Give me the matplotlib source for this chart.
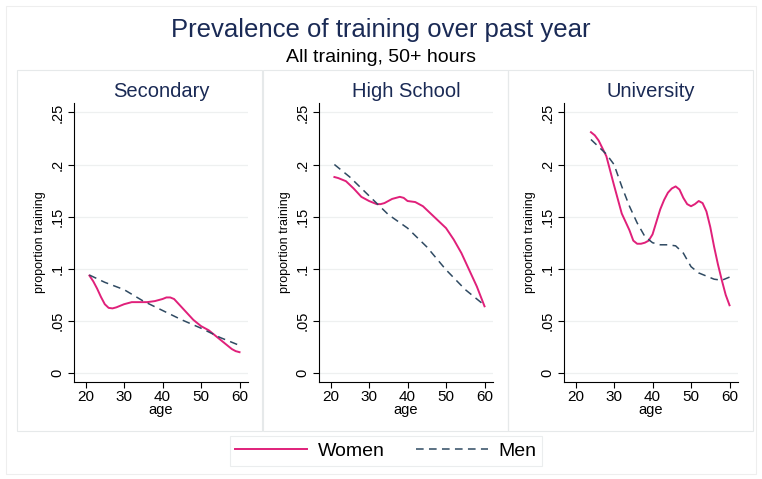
import matplotlib
matplotlib.use("Agg")
import matplotlib.pyplot as plt
from matplotlib.patches import Rectangle
from matplotlib.lines import Line2D

plt.rcParams['font.family'] = ['Liberation Sans', 'DejaVu Sans']

# data
panels = ["Secondary", "High School", "University"]

sec_w_age = [21, 22, 23, 24, 25, 26, 27, 28, 30, 32, 34, 36, 38, 40, 41, 42, 43, 44, 45, 46, 47, 48, 50, 52, 54, 56, 58, 59, 60]
sec_w = [.0935, .088, .081, .073, .066, .0625, .062, .063, .066, .068, .068, .068, .069, .071, .0725, .0725, .071, .067,
         .063, .059, .055, .051, .045, .041, .035, .029, .023, .021, .020]
sec_m_age = [21, 25, 30, 35, 40, 45, 50, 55, 60]
sec_m = [.094, .087, .080, .069, .060, .051, .043, .034, .0265]

hs_w_age = [21, 22, 24, 26, 28, 30, 32, 33, 34, 36, 38, 39, 40, 42, 44, 46, 48, 50, 52, 54, 56, 58, 60]
hs_w = [.188, .187, .184, .177, .169, .165, .162, .162, .163, .167, .169, .168, .165, .164, .160, .153, .146, .139,
        .128, .115, .099, .083, .064]
hs_m_age = [21, 25, 30, 35, 40, 45, 50, 55, 60]
hs_m = [.200, .188, .170, .152, .139, .121, .099, .080, .065]

uni_w_age = [24, 25, 26, 28, 30, 32, 34, 35, 36, 37, 38, 39, 40, 41, 42, 43, 44, 45, 46, 47, 48, 49, 50, 51, 52, 53,
             54, 55, 56, 57, 58, 59, 60]
uni_w = [.231, .228, .223, .208, .180, .153, .137, .127, .124, .124, .125, .127, .133, .145, .157, .166, .173, .177,
         .179, .176, .168, .162, .160, .162, .165, .163, .155, .140, .121, .104, .089, .075, .065]
uni_m_age = [24, 26, 28, 30, 32, 34, 36, 38, 40, 42, 44, 46, 48, 50, 52, 54, 56, 58, 60]
uni_m = [.224, .217, .210, .200, .179, .160, .144, .131, .125, .123, .123, .122, .115, .102, .096, .093, .090, .089, .092]

women = [(sec_w_age, sec_w), (hs_w_age, hs_w), (uni_w_age, uni_w)]
men = [(sec_m_age, sec_m), (hs_m_age, hs_m), (uni_m_age, uni_m)]

yticks = [0, .05, .1, .15, .2, .25]
ytick_labels = ["0", ".05", ".1", ".15", ".2", ".25"]
xticks = [20, 30, 40, 50, 60]

W, H = 762, 479
women_color = "#e0207a"
men_color = "#2f4a62"
navy = "#1a2a55"
border = "#e6e9ea"

fig = plt.figure(figsize=(W / 100, H / 100), dpi=100)
fig.patch.set_facecolor("white")


def fx(px):
    return px / W


def fy(py):
    return 1 - py / H


# outer frame and panel boxes
fig.patches.append(Rectangle((fx(6), fy(474)), fx(750), 468 / H, transform=fig.transFigure,
                             fill=False, edgecolor="#eeeeee", lw=0.8))
panel_left = [17, 263, 508]
for pl in panel_left:
    fig.patches.append(Rectangle((fx(pl), fy(431)), fx(245), 361 / H, transform=fig.transFigure,
                                 fill=False, edgecolor=border, lw=0.8))

fig.text(0.5, fy(30), "Prevalence of training over past year", ha="center", va="center",
         fontsize=18.5, color=navy)
fig.text(0.5, fy(57), "All training, 50+ hours", ha="center", va="center", fontsize=14, color="black")

axes_left = [74, 319, 564]
for i, name in enumerate(panels):
    ax = fig.add_axes([fx(axes_left[i]), fy(382), fx(174), (382 - 103) / H])
    ax.plot(women[i][0], women[i][1], color=women_color, lw=1.4)
    ax.plot(men[i][0], men[i][1], color=men_color, lw=1.1, dashes=(5, 3.5))
    ax.set_xlim(17, 62.2)
    ax.set_ylim(-0.0086, 0.259)
    ax.set_yticks(yticks)
    ax.set_yticklabels(ytick_labels, rotation=90, va="center")
    ax.set_xticks(xticks)
    ax.grid(axis="y", color="#eef0f0", lw=0.9)
    ax.set_axisbelow(True)
    ax.spines["top"].set_visible(False)
    ax.spines["right"].set_visible(False)
    ax.tick_params(labelsize=10.5, length=4, width=0.8, pad=3)
    ax.tick_params(axis="x", labelsize=11, pad=2)
    ax.set_ylabel("proportion training", fontsize=9, labelpad=3)
    ax.set_xlabel("age", fontsize=10.5, labelpad=-1)
    ax.set_title(name, fontsize=14.5, color=navy, pad=4)

handles = [Line2D([], [], color=women_color, lw=1.4),
           Line2D([], [], color=men_color, lw=1.1, dashes=(5, 3.5))]
leg = fig.legend(handles, ["Women", "Men"], loc="center", bbox_to_anchor=(fx(386), fy(451)), ncol=2,
                 fontsize=14, handlelength=3.7, handletextpad=0.55, columnspacing=1.6,
                 frameon=True, fancybox=False, edgecolor=border, borderpad=0.3)
leg.get_frame().set_linewidth(0.8)

fig.savefig("out.png", dpi=100, facecolor="white")
